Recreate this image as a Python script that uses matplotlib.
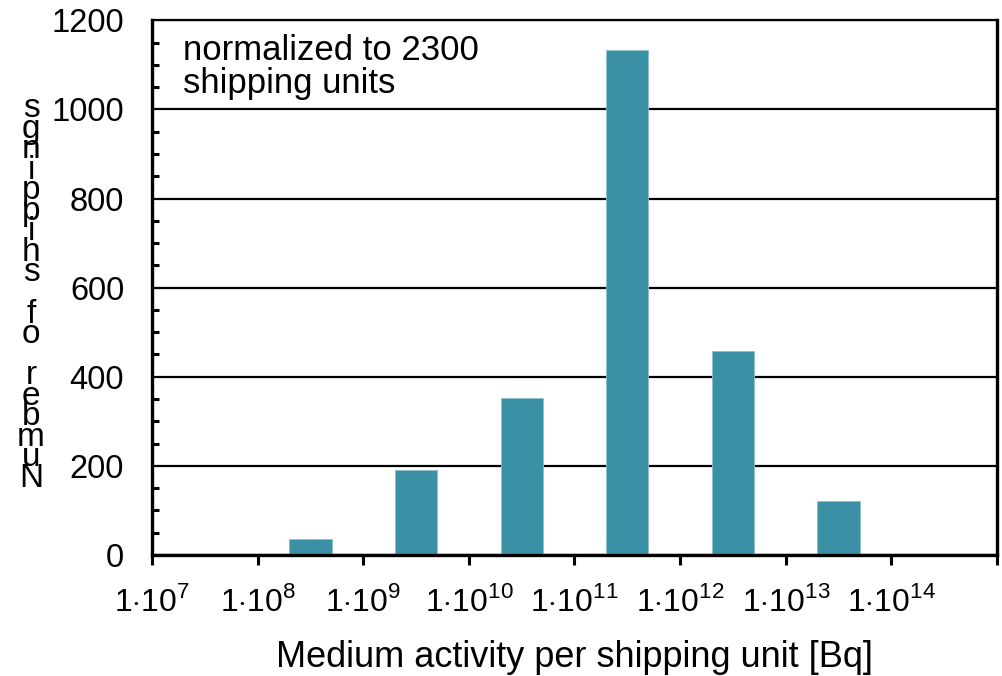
import matplotlib.pyplot as plt
from matplotlib.ticker import MultipleLocator

plt.rcParams['font.family'] = ['Liberation Sans', 'DejaVu Sans']
plt.rcParams['mathtext.fontset'] = 'custom'
plt.rcParams['mathtext.rm'] = 'Liberation Sans'

exponents = [7, 8, 9, 10, 11, 12, 13, 14]
counts = [3, 37, 190, 352, 1134, 457, 122, 3]
tick_labels = [r'1$\cdot$10$^{%d}$' % e for e in exponents]

W, H = 1003, 676
fig = plt.figure(figsize=(W / 100, H / 100), dpi=100)
ax = fig.add_axes([0.1515, 0.179, 0.8425, 0.791])

pos = [i + 0.5 for i in range(len(counts))]
ax.bar(pos, counts, width=0.4, color='#3a90a4', edgecolor='#8cc0cc', linewidth=0.6, zorder=2)

ax.set_xlim(0, 8)
ax.set_ylim(0, 1200)
ax.set_xticks(range(len(exponents) + 1))
ax.set_xticklabels(tick_labels + [''], fontsize=23)
ax.tick_params(axis='x', direction='out', length=7, width=2.2, pad=15)

ax.yaxis.set_major_locator(MultipleLocator(200))
ax.yaxis.set_minor_locator(MultipleLocator(50))
ax.tick_params(axis='y', which='major', length=0, pad=20, labelsize=23.5)
ax.tick_params(axis='y', which='minor', direction='in', length=5, width=2.2)
ax.grid(axis='y', color='black', linewidth=1.6, zorder=1)

for s in ['left', 'bottom', 'right']:
    ax.spines[s].set_linewidth(2.4)
ax.spines['top'].set_linewidth(1.6)

ax.set_xlabel('Medium activity per shipping unit [Bq]', fontsize=26, labelpad=16)

# y label: letters stacked upright, read from bottom to top
label = 'Number of shippings'
top_base, bot_base = 117, 487
step = (bot_base - top_base) / (len(label) - 1)
for k, ch in enumerate(reversed(label)):
    y = top_base + k * step
    fig.text(31 / W, 1 - y / H, ch, fontsize=24, ha='center', va='baseline')

ax.text(0.037, 0.975, 'normalized to 2300\nshipping units', transform=ax.transAxes,
        fontsize=25, va='top', ha='left', linespacing=1.0)

plt.savefig('out.png', dpi=100)
